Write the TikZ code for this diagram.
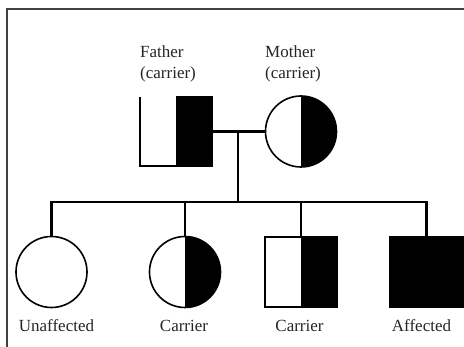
\documentclass[tikz,border=0pt]{standalone}
\usepackage{fontspec}
\setmainfont{Liberation Serif}
\begin{document}
\begin{tikzpicture}[x=1pt,y=-1pt,
  sym/.style={line width=1.6pt, inner sep=0pt, outer sep=0pt},
  female/.style={sym, circle, draw, minimum size=71pt},
  male/.style={sym, rectangle, draw, minimum width=72pt, minimum height=70pt},
  halffill/.style={path picture={\fill[black] (path picture bounding box.north) rectangle (path picture bounding box.south east);}},
  fullfill/.style={fill=black},
  link/.style={line width=2.3pt},
  lbl/.style={font=\fontsize{17}{20}\selectfont, inner sep=0pt, text=black!85},
  frameline/.style={line width=1.6pt, draw=black!75}
]
\useasboundingbox (0,0) rectangle (464,347);
\fill[white] (0,0) rectangle (464,347);
% frame (top and left edges only visible)
\coordinate (ftl) at (7,9);
\coordinate (ftr) at (464,9);
\coordinate (fbl) at (7,347);
\draw[frameline] (ftr) -- (ftl) -- (fbl);

% parents
\node[male, halffill, draw=none, minimum height=69pt] (father) at (176,131.5) {};
\draw[sym] (father.north west) -- (father.south west) -- (father.south east) -- (father.north east) -- (father.north);
\node[female, halffill] (mother) at (301,131.5) {};

% parent labels
\node[lbl, anchor=base west] (flab1) at (140,58) {Father};
\node[lbl, anchor=base west] (flab2) at (140,79) {(carrier)};
\node[lbl, anchor=base west] (mlab1) at (265,58) {Mother};
\node[lbl, anchor=base west] (mlab2) at (265,79) {(carrier)};

% children
\node[female] (c1) at (51.5,272) {};
\node[female, halffill] (c2) at (185,272) {};
\node[male, halffill] (c3) at (301,272) {};
\node[male, fullfill, minimum width=73pt] (c4) at (426.5,272) {};

% child labels
\node[lbl, anchor=base] (l1) at (56.5,332) {Unaffected};
\node[lbl, anchor=base] (l2) at (184,332) {Carrier};
\node[lbl, anchor=base] (l3) at (299.5,332) {Carrier};
\node[lbl, anchor=base] (l4) at (421.5,332) {Affected};

% connectors
\coordinate (mate) at (238,131.5);
\coordinate (sib) at (238,202);
\coordinate (s1) at (c1.north |- sib);
\coordinate (s4) at (c4.north |- sib);
\draw[link] (father.east) -- (mother.west);
\draw[link] (mate) -- (sib);
\draw[link, line cap=rect] (s1) -- (s4);
\draw[link] (s1) -- (c1.north);
\draw[link] (c2.north |- sib) -- (c2.north);
\draw[link] (c3.north |- sib) -- (c3.north);
\draw[link] (s4) -- (c4.north);
\end{tikzpicture}
\end{document}
